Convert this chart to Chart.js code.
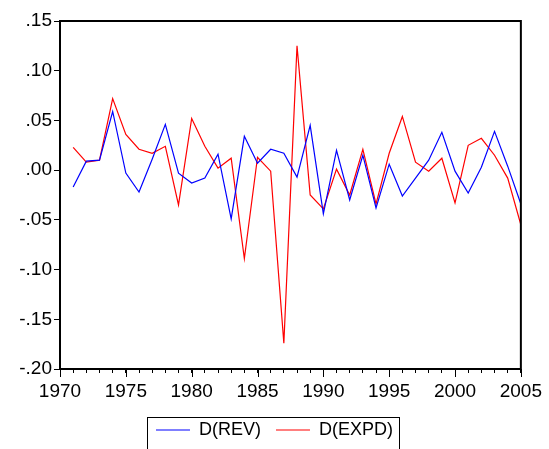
<!DOCTYPE html>
<html>
<head>
<meta charset="utf-8">
<script src="https://cdn.jsdelivr.net/npm/chart.js@4/dist/chart.umd.min.js"></script>
<style>
  html, body { margin: 0; padding: 0; background: #fff; }
  #wrap { width: 549px; height: 449px; }
</style>
</head>
<body>
<div id="wrap"><canvas id="chart" width="549" height="449"></canvas></div>
<script>
// years 1971..2005
const years = [1971, 1972, 1973, 1974, 1975, 1976, 1977, 1978, 1979, 1980,
  1981, 1982, 1983, 1984, 1985, 1986, 1987, 1988, 1989, 1990,
  1991, 1992, 1993, 1994, 1995, 1996, 1997, 1998, 1999, 2000,
  2001, 2002, 2003, 2004, 2005];

const rev = [-0.017, 0.009, 0.010, 0.059, -0.003, -0.022, 0.011, 0.046, -0.003, -0.013,
  -0.008, 0.016, -0.049, 0.034, 0.007, 0.021, 0.017, -0.007, 0.045, -0.044,
  0.020, -0.030, 0.015, -0.038, 0.006, -0.026, -0.008, 0.010, 0.038, -0.001,
  -0.023, 0.003, 0.039, 0.004, -0.034];

const expd = [0.023, 0.008, 0.010, 0.072, 0.036, 0.021, 0.017, 0.024, -0.035, 0.052,
  0.024, 0.002, 0.012, -0.089, 0.013, -0.001, -0.174, 0.125, -0.025, -0.039,
  0.001, -0.025, 0.021, -0.034, 0.017, 0.054, 0.008, -0.001, 0.012, -0.033,
  0.025, 0.032, 0.015, -0.008, -0.055];

const yMin = -0.20, yMax = 0.15, yStep = 0.05;
const xMin = 1970, xMax = 2005;

const font = { family: "'Liberation Sans', Arial, sans-serif", size: 19 };
const legendFont = { family: "'Liberation Sans', Arial, sans-serif", size: 18 };

function toPoints(vals) {
  return years.map((y, i) => ({ x: y, y: vals[i] }));
}

function fmtY(v) {
  if (Math.abs(v) < 1e-9) v = 0;
  let s = Number(v).toFixed(2);
  return s.replace("0.", ".");
}

// frame round the plot area + longer ticks every 5 years
const framePlugin = {
  id: "frame",
  afterDraw(chart) {
    const ctx = chart.ctx;
    const a = chart.chartArea;
    const xs = chart.scales.x;
    ctx.save();
    ctx.strokeStyle = "#000";
    ctx.lineWidth = 1;
    for (let yr = xMin; yr <= xMax; yr += 5) {
      const px = Math.round(xs.getPixelForValue(yr)) + 0.5;
      ctx.beginPath();
      ctx.moveTo(px, a.bottom);
      ctx.lineTo(px, a.bottom + 8);
      ctx.stroke();
    }
    ctx.lineWidth = 2;
    ctx.strokeRect(a.left, a.top, a.right - a.left, a.bottom - a.top);
    ctx.restore();
  }
};

// box round the legend
const legendBox = {
  id: "legendBox",
  afterDraw(chart) {
    const boxes = chart.legend.legendHitBoxes;
    if (!boxes || !boxes.length) return;
    let l = Infinity, r = -Infinity, t = Infinity;
    for (const b of boxes) {
      l = Math.min(l, b.left);
      r = Math.max(r, b.left + b.width);
      t = Math.min(t, b.top);
    }
    const ctx = chart.ctx;
    ctx.save();
    ctx.strokeStyle = "#000";
    ctx.lineWidth = 1;
    ctx.strokeRect(Math.round(l - 9) + 0.5, Math.round(t - 4) + 0.5, Math.round(r - l + 15), 60);
    ctx.restore();
  }
};

new Chart(document.getElementById("chart"), {
  type: "line",
  data: {
    datasets: [
      {
        label: "D(REV)",
        data: toPoints(rev),
        borderColor: "#0000ff",
        backgroundColor: "#0000ff",
        borderWidth: 1.2,
        pointRadius: 0,
        tension: 0,
      },
      {
        label: "D(EXPD)",
        data: toPoints(expd),
        borderColor: "#ff0000",
        backgroundColor: "#ff0000",
        borderWidth: 1.2,
        pointRadius: 0,
        tension: 0,
      },
    ],
  },
  options: {
    responsive: false,
    animation: false,
    layout: { padding: { top: 21, right: 0, left: 0, bottom: 0 } },
    scales: {
      x: {
        type: "linear",
        min: xMin,
        max: xMax,
        grid: { drawOnChartArea: false, drawTicks: true, tickLength: 4, color: "#000" },
        border: { display: false },
        ticks: {
          stepSize: 1,
          autoSkip: false,
          maxRotation: 0,
          color: "#000",
          font: font,
          padding: 7,
          callback: (v) => (v % 5 === 0 ? String(v) : ""),
        },
        afterFit: (s) => { s.height = 37; },
      },
      y: {
        min: yMin,
        max: yMax,
        grid: { drawOnChartArea: false, drawTicks: true, tickLength: 6, color: "#000" },
        border: { display: false },
        ticks: {
          stepSize: yStep,
          color: "#000",
          font: font,
          padding: 2,
          callback: (v) => fmtY(v),
        },
        afterFit: (s) => { s.width = 60; },
      },
      // empty right axis, only keeps space at the right edge
      yRight: {
        position: "right",
        display: true,
        min: yMin,
        max: yMax,
        grid: { display: false },
        border: { display: false },
        ticks: { display: false },
        afterFit: (s) => { s.width = 25; },
      },
    },
    plugins: {
      legend: {
        position: "bottom",
        labels: {
          color: "#000",
          font: legendFont,
          usePointStyle: true,
          pointStyle: "line",
          pointStyleWidth: 34,
          boxHeight: 18,
          padding: 15,
        },
      },
      tooltip: { enabled: false },
    },
  },
  plugins: [framePlugin, legendBox],
});
</script>
</body>
</html>
